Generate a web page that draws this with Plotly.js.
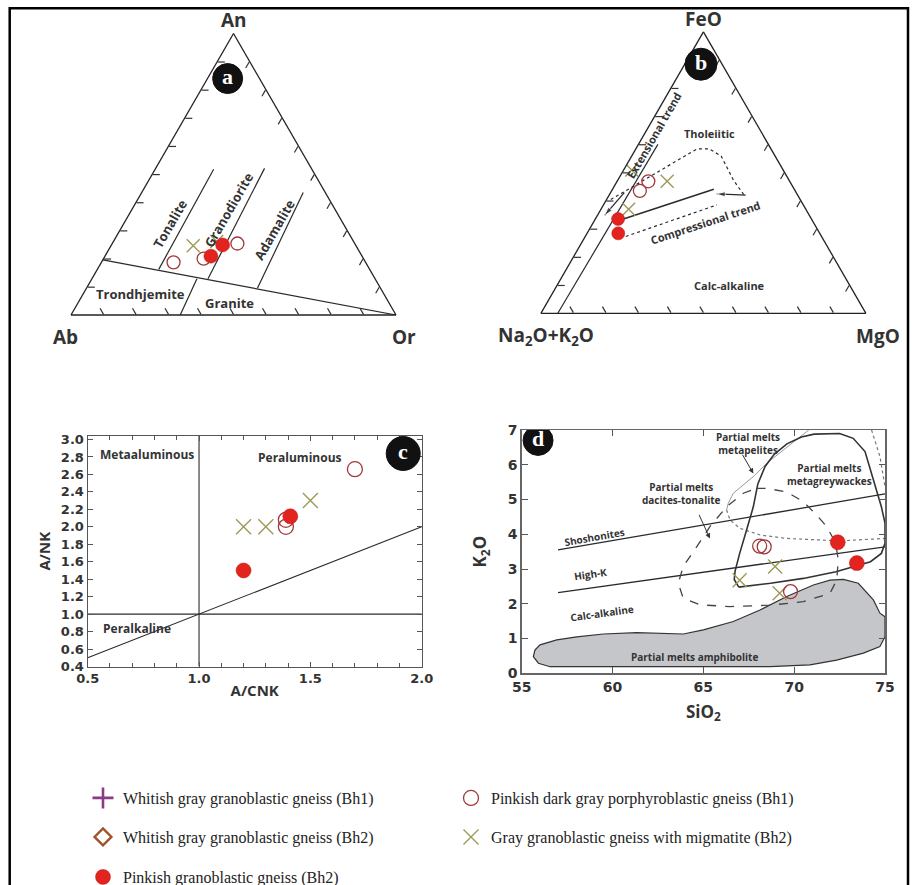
<!DOCTYPE html>
<html><head><meta charset="utf-8">
<script src="https://cdn.plot.ly/plotly-3.0.1.min.js"></script>
<style>body{margin:0;background:#fff}#chart{width:917px;height:885px}</style>
</head><body><div id="chart"></div>
<script>
const W = 917, H = 885;

// ---------- Panel a : An - Ab - Or ----------
const aOpenAn = [0.187, 0.200, 0.254];
const aOpenAb = [0.591, 0.492, 0.361];
const aOpenOr = [0.222, 0.308, 0.385];
const aFillAn = [0.209, 0.249];
const aFillAb = [0.465, 0.409];
const aFillOr = [0.326, 0.342];
const aXAn = [0.246, 0.261];
const aXAb = [0.501, 0.421];
const aXOr = [0.253, 0.318];
// field boundaries (An, Ab, Or)
const aBoundAn = [0.196, 0.0], aBoundAb = [0.804, 0.0], aBoundOr = [0.0, 1.0];
const aTrGrAn = [0.0, 0.129], aTrGrAb = [0.664, 0.548], aTrGrOr = [0.336, 0.323];
const aTonAn = [0.162, 0.518], aTonAb = [0.649, 0.302], aTonOr = [0.189, 0.180];
const aGrdAn = [0.129, 0.521], aGrdAb = [0.514, 0.144], aGrdOr = [0.357, 0.335];
const aAdaAn = [0.095, 0.435], aAdaAb = [0.379, 0.068], aAdaOr = [0.526, 0.497];

// ---------- Panel b : FeO - (Na2O+K2O) - MgO ----------
const bFillFe = [0.335, 0.284], bFillAlk = [0.595, 0.620], bFillMg = [0.070, 0.096];
const bOpenFe = [0.435, 0.469], bOpenAlk = [0.478, 0.435], bOpenMg = [0.087, 0.096];
const bXFe = [0.509, 0.469, 0.370], bXAlk = [0.466, 0.377, 0.545], bXMg = [0.025, 0.154, 0.085];
const bInnerFe = [0.0, 0.60], bInnerAlk = [0.948, 0.34], bInnerMg = [0.052, 0.06];
const bExtArrFe = [0.429, 0.348], bExtArrAlk = [0.529, 0.630], bExtArrMg = [0.042, 0.022];
const bUpDotFe = [0.404, 0.584, 0.584, 0.559, 0.472, 0.422];
const bUpDotMg = [0.013, 0.188, 0.226, 0.275, 0.357, 0.413];
const bUpDotAlk = [0.583, 0.228, 0.190, 0.166, 0.171, 0.165];
const bCompFe = [0.329, 0.441], bCompAlk = [0.598, 0.2475], bCompMg = [0.073, 0.3115];
const bCompArrFe = [0.420, 0.424], bCompArrAlk = [0.160, 0.247], bCompArrMg = [0.420, 0.329];
const bLoDotFe = [0.273, 0.385], bLoDotAlk = [0.6025, 0.266], bLoDotMg = [0.1245, 0.349];

// ---------- Panel c : A/CNK vs A/NK ----------
const cOpenX = [1.70, 1.39, 1.39], cOpenY = [2.66, 2.00, 2.08];
const cFillX = [1.41, 1.20], cFillY = [2.12, 1.50];
const cXX = [1.20, 1.30, 1.50], cXY = [2.00, 2.00, 2.30];
const cVertX = [1.0, 1.0], cVertY = [0.4, 3.04];
const cHorX = [0.5, 2.0], cHorY = [1.0, 1.0];
const cDiagX = [0.5, 2.0], cDiagY = [0.5, 2.0];
// groups with no plotted sample (legend only)
const plusX = [null], plusY = [null];
const diamX = [null], diamY = [null];

// ---------- Panel d : SiO2 vs K2O ----------
const dOpenX = [68.1, 68.35, 69.8], dOpenY = [3.66, 3.64, 2.35];
const dFillX = [72.4, 73.45], dFillY = [3.77, 3.17];
const dXX = [67.0, 68.95, 69.2], dXY = [2.68, 3.07, 2.30];
const dShoX = [57.0, 75.0], dShoY = [3.55, 5.16];
const dHiKX = [57.0, 75.0], dHiKY = [2.32, 3.64];
const dAmphX = [55.73,56.01,56.93,58.03,59.50,61.33,63.90,65.00,66.65,68.12,69.59,71.06,71.97,72.71,73.53,74.36,74.72,75.0,75.0,74.72,73.81,72.34,70.87,68.67,63.17,56.56,55.92,55.64,55.73];
const dAmphY = [0.67,0.82,0.96,1.05,1.13,1.17,1.13,1.25,1.49,1.82,2.21,2.54,2.68,2.70,2.59,2.11,1.73,1.63,1.05,0.77,0.58,0.38,0.24,0.19,0.19,0.19,0.29,0.48,0.67];
const dGreyX = [66.95,66.7,66.75,67.0,67.38,67.75,68.0,68.4,68.9,69.6,70.4,71.1,72.5,73.25,73.9,74.35,74.8,75.0,75.0,74.8,74.2,72.3,70.5,68.7,67.2,66.95];
const dGreyY = [2.48,2.7,2.95,3.45,4.12,4.79,5.45,5.95,6.3,6.6,6.8,6.88,6.9,6.76,6.38,5.56,4.79,4.32,3.74,3.45,3.21,2.92,2.73,2.59,2.48,2.48];
const dPelUpX = [70.8,69.39,68.48,67.84,67.2,66.65,66.37,66.28];
const dPelUpY = [7.0,6.42,6.04,5.70,5.42,5.18,4.89,4.70];
const dPelLoX = [66.28,66.47,67.01,68.12,69.58,71.24,72.52,75.0];
const dPelLoY = [4.70,4.41,4.17,3.98,3.88,3.83,3.81,3.88];
const dTopRX = [74.26,74.72,75.0], dTopRY = [7.0,6.24,5.37];
const dDacX = [67.93,68.48,69.58,70.50,71.24,71.79,72.15,72.34,72.43,72.34,71.97,70.50,68.67,66.47,64.82,63.89,63.62,63.89,64.63,65.36,66.28,67.20,67.93];
const dDacY = [5.32,5.32,5.22,4.94,4.55,4.22,3.88,3.55,3.26,2.68,2.30,2.06,1.96,1.92,1.97,2.16,2.59,3.07,3.64,4.22,4.79,5.18,5.32];

// legend names
const NAMES = ['Whitish gray granoblastic gneiss (Bh1)','Pinkish dark gray porphyroblastic gneiss (Bh1)',
  'Whitish gray granoblastic gneiss (Bh2)','Gray granoblastic gneiss with migmatite (Bh2)','Pinkish granoblastic gneiss (Bh2)'];

// ---------- styling ----------
const C_OPEN = '#a3383a', C_FILL = '#e2231e', C_X = '#9d9a58', C_PLUS = '#8b3a84', C_DIAM = '#a0522d', C_LN = '#2a2a2a', C_TX = '#333';
const mOpen = s => ({symbol:'circle-open', size:s, color:C_OPEN, line:{width:1.3}});
const mFill = s => ({symbol:'circle', size:s, color:C_FILL, line:{color:'#c01818', width:0.5}});
const mX = s => ({symbol:'x-thin-open', size:s, color:C_X, line:{width:1.4}});

function triGeom(cx, yb, w){ return {xl:cx-w/2, xr:cx+w/2, yb:yb, yt:yb-w*Math.sqrt(3)/2}; }
const GA = triGeom(233.5, 315, 325);
const GB = triGeom(703.4, 313.3, 325);
const domOf = g => ({x:[g.xl/W, g.xr/W], y:[1-g.yb/H, 1-g.yt/H]});
function terPx(g,a,c){ const w=g.xr-g.xl; return [g.xl + c*w + a*w/2, g.yb - a*(g.yb-g.yt)]; }
function terP(g,a,c){ const p=terPx(g,a,c); return [p[0]/W, 1-p[1]/H]; }
function angPx(g,a1,c1,a2,c2){ const p=terPx(g,a1,c1), q=terPx(g,a2,c2); return Math.atan2(q[1]-p[1], q[0]-p[0])*180/Math.PI; }
function arrowAng(g,a1,c1,a2,c2){ const p=terPx(g,a1,c1), q=terPx(g,a2,c2); return Math.atan2(q[0]-p[0], -(q[1]-p[1]))*180/Math.PI; }

const tl = (sub, a, b, c, dash, w) => ({type:'scatterternary', subplot:sub, a:a, b:b, c:c, mode:'lines',
  line:{color:C_LN, width:w||1.2, dash:dash||'solid'}, showlegend:false, hoverinfo:'skip'});
const tp = (sub, a, b, c, m) => ({type:'scatterternary', subplot:sub, a:a, b:b, c:c, mode:'markers', marker:m, showlegend:false, hoverinfo:'skip'});

const data = [];
// panel a
data.push(tl('ternary', aBoundAn, aBoundAb, aBoundOr));
data.push(tl('ternary', aTrGrAn, aTrGrAb, aTrGrOr));
data.push(tl('ternary', aTonAn, aTonAb, aTonOr));
data.push(tl('ternary', aGrdAn, aGrdAb, aGrdOr));
data.push(tl('ternary', aAdaAn, aAdaAb, aAdaOr));
data.push(tp('ternary', aXAn, aXAb, aXOr, mX(13)));
data.push(tp('ternary', aOpenAn, aOpenAb, aOpenOr, mOpen(13)));
data.push(tp('ternary', aFillAn, aFillAb, aFillOr, mFill(14)));
// panel b
data.push(tl('ternary2', bInnerFe, bInnerAlk, bInnerMg));
data.push(tl('ternary2', bUpDotFe, bUpDotAlk, bUpDotMg, 'dot', 1.2));
data.push(tl('ternary2', bLoDotFe, bLoDotAlk, bLoDotMg, 'dot', 1.2));
data.push(tl('ternary2', bCompFe, bCompAlk, bCompMg, 'solid', 1.5));
const arrT = (a,b,c,ang) => Object.assign(tl('ternary2', a, b, c, 'solid', 1.3), {mode:'lines+markers',
  marker:{symbol:'arrow', size:[0,9], angle:ang, color:C_LN}});
data.push(arrT(bExtArrFe, bExtArrAlk, bExtArrMg, arrowAng(GB, bExtArrFe[0], bExtArrMg[0], bExtArrFe[1], bExtArrMg[1])));
data.push(arrT(bCompArrFe, bCompArrAlk, bCompArrMg, arrowAng(GB, bCompArrFe[0], bCompArrMg[0], bCompArrFe[1], bCompArrMg[1])));
data.push(tp('ternary2', bXFe, bXAlk, bXMg, mX(13)));
data.push(tp('ternary2', bOpenFe, bOpenAlk, bOpenMg, mOpen(13)));
data.push(tp('ternary2', bFillFe, bFillAlk, bFillMg, mFill(13)));

// panel c
const cl = (x, y) => ({type:'scatter', x:x, y:y, xaxis:'x', yaxis:'y', mode:'lines', line:{color:C_LN, width:1.1}, showlegend:false, hoverinfo:'skip'});
data.push(cl(cVertX, cVertY), cl(cHorX, cHorY), cl(cDiagX, cDiagY));
data.push({type:'scatter', x:plusX, y:plusY, mode:'markers', name:NAMES[0], legend:'legend', legendrank:1,
  marker:{symbol:'cross-thin-open', size:15, color:C_PLUS, line:{width:2.6}}});
data.push({type:'scatter', x:cOpenX, y:cOpenY, mode:'markers', name:NAMES[1], legend:'legend', legendrank:2, marker:mOpen(15)});
data.push({type:'scatter', x:diamX, y:diamY, mode:'markers', name:NAMES[2], legend:'legend2', legendrank:1,
  marker:{symbol:'diamond-open', size:13, color:C_DIAM, line:{width:2.4}}});
data.push({type:'scatter', x:cXX, y:cXY, mode:'markers', name:NAMES[3], legend:'legend2', legendrank:2, marker:mX(15)});
data.push({type:'scatter', x:cFillX, y:cFillY, mode:'markers', name:NAMES[4], legend:'legend3', legendrank:1, marker:mFill(15)});

// panel d
const dl = (x, y, color, dash, w) => ({type:'scatter', x:x, y:y, xaxis:'x2', yaxis:'y2', mode:'lines',
  line:{color:color, width:w||1.2, dash:dash||'solid'}, showlegend:false, hoverinfo:'skip'});
data.push(Object.assign(dl(dAmphX, dAmphY, '#333', 'solid', 1.2), {fill:'toself', fillcolor:'#c5c6c9'}));
data.push(dl(dShoX, dShoY, C_LN, 'solid', 1.3));
data.push(dl(dHiKX, dHiKY, C_LN, 'solid', 1.3));
data.push(dl(dPelUpX, dPelUpY, '#999', 'solid', 1));
data.push(dl(dPelLoX, dPelLoY, '#777', 'dot', 1.2));
data.push(dl(dTopRX, dTopRY, '#777', 'dot', 1.2));
data.push(dl(dGreyX, dGreyY, '#333', 'solid', 1.6));
data.push(dl(dDacX, dDacY, '#444', 'dash', 1.3));
const dp = (x, y, m) => ({type:'scatter', x:x, y:y, xaxis:'x2', yaxis:'y2', mode:'markers', marker:m, showlegend:false, hoverinfo:'skip'});
data.push(dp(dXX, dXY, mX(14)), dp(dOpenX, dOpenY, mOpen(14)), dp(dFillX, dFillY, mFill(15)));

// ---------- annotations ----------
const FONT = 'Open Sans';
const txt = (text, x, y, size, extra) => Object.assign({text:text, x:x, y:y, showarrow:false, xanchor:'center', yanchor:'middle',
  font:{family:FONT, size:size, color:C_TX, weight:'bold'}}, extra||{});
const ann = [];
function terLab(g, text, a, c, size, ang){ const p = terP(g, a, c); ann.push(txt(text, p[0], p[1], size, {xref:'paper', yref:'paper', textangle:ang||0})); }
// panel a labels
terLab(GA, 'Tonalite', 0.325, 0.141, 13, -60);
terLab(GA, 'Granodiorite', 0.375, 0.300, 13, -60);
terLab(GA, 'Adamalite', 0.302, 0.474, 13, -60);
terLab(GA, 'Trondhjemite', 0.074, 0.177, 13, 0);
terLab(GA, 'Granite', 0.043, 0.4665, 13, 0);
// panel b labels
terLab(GB, 'Tholeiitic', 0.64, 0.198, 11, 0);
terLab(GB, 'Calc-alkaline', 0.099, 0.53, 11, 0);
terLab(GB, 'Compressional trend', 0.322, 0.345, 11, angPx(GB, bCompFe[0], bCompMg[0], bCompFe[1], bCompMg[1]));
terLab(GB, 'Extensional trend', 0.63, 0.033, 11, -60);
// vertex labels
const px2p = (x, y) => [x/W, 1-y/H];
function pxLab(text, x, y, size){ const p = px2p(x, y); ann.push(txt(text, p[0], p[1], size, {xref:'paper', yref:'paper'})); }
pxLab('An', (GA.xl+GA.xr)/2, GA.yt-14, 19);
pxLab('Ab', GA.xl-6, 337, 19);
pxLab('Or', GA.xr+8, 337, 19);
pxLab('FeO', (GB.xl+GB.xr)/2, GB.yt-13, 19);
pxLab('Na<sub>2</sub>O+K<sub>2</sub>O', GB.xl+5, 336, 19);
pxLab('MgO', GB.xr+12, 336, 19);
// panel c labels
ann.push(txt('Metaaluminous', 0.765, 2.83, 12, {xref:'x', yref:'y'}));
ann.push(txt('Peraluminous', 1.454, 2.79, 12, {xref:'x', yref:'y'}));
ann.push(txt('Peralkaline', 0.72, 0.84, 12, {xref:'x', yref:'y'}));
// panel d labels
const dT = (t, x, y, ang) => ann.push(txt(t, x, y, 10, {xref:'x2', yref:'y2', textangle:ang||0}));
dT('Partial melts<br>metapelites', 67.48, 6.62);
dT('Partial melts<br>metagreywackes', 71.95, 5.72);
dT('Partial melts<br>dacites-tonalite', 63.8, 5.16);
dT('Shoshonites', 58.98, 3.93, -10);
dT('High-K', 58.8, 2.86, -8);
dT('Calc-alkaline', 59.44, 1.74, -8);
dT('Partial melts amphibolite', 64.54, 0.48);
const dArrow = (x0, y0, x1, y1) => ann.push({xref:'x2', yref:'y2', axref:'x2', ayref:'y2', x:x1, y:y1, ax:x0, ay:y0,
  text:'', showarrow:true, arrowhead:2, arrowsize:1, arrowwidth:1, arrowcolor:'#333'});
dArrow(64.73, 4.60, 65.36, 3.88);
dArrow(67.11, 6.33, 67.75, 5.75);

// badges
const shapes = [];
function badge(letter, xp, yp, xref, yref, r){
  shapes.push({type:'circle', xref:xref, yref:yref, xsizemode:'pixel', ysizemode:'pixel', xanchor:xp, yanchor:yp,
    x0:-r, x1:r, y0:-r, y1:r, fillcolor:'#111', line:{color:'#111', width:1}});
  ann.push({text:letter, x:xp, y:yp, xref:xref, yref:yref, xanchor:'center', yanchor:'middle', showarrow:false, yshift:2,
    font:{family:'Liberation Serif', size:22, color:'#fff', weight:'bold'}});
}
const pa = terP(GA, 0.84, 0.062); badge('a', pa[0], pa[1], 'paper', 'paper', 15);
const pb = terP(GB, 0.885, 0.05); badge('b', pb[0], pb[1], 'paper', 'paper', 16);
badge('c', 1.917, 2.84, 'x', 'y', 17);
badge('d', 55.9, 6.7, 'x2', 'y2', 15);
// outer frame
shapes.push({type:'rect', xref:'paper', yref:'paper', x0:9.7/W, x1:908/W, y0:-0.02, y1:1-8.3/H, line:{color:'#000', width:2.5}});

// ---------- layout ----------
const tAx = {showticklabels:false, ticks:'inside', ticklen:7, tickwidth:1.2, tickcolor:'#333', dtick:0.1, showgrid:false,
  showline:true, linecolor:'#222', linewidth:1.3, title:{text:''}};
const tickFont = s => ({family:'DejaVu Sans', size:s, color:'#333', weight:'bold'});
const legendBase = {orientation:'h', xanchor:'left', yanchor:'middle', x:83/W, entrywidth:323, bgcolor:'rgba(0,0,0,0)',
  font:{family:'Liberation Serif', size:16, color:'#222'}, itemclick:false, itemdoubleclick:false};

const layout = {
  width:W, height:H, margin:{l:0, r:0, t:0, b:0, autoexpand:false}, paper_bgcolor:'#fff', plot_bgcolor:'#fff', showlegend:true,
  ternary:{domain:domOf(GA), sum:1, bgcolor:'#fff', aaxis:tAx, baxis:tAx, caxis:tAx},
  ternary2:{domain:domOf(GB), sum:1, bgcolor:'#fff', aaxis:tAx, baxis:tAx, caxis:tAx},
  xaxis:{domain:[87.7/W, 421.7/W], range:[0.5, 2.0], tick0:0.5, dtick:0.5, tickformat:'.1f', ticks:'inside', ticklen:5,
    minor:{dtick:0.1, tick0:0.5, ticks:'inside', ticklen:4, tickcolor:'#555'}, showline:true, mirror:'ticks', linecolor:'#555',
    linewidth:1.2, tickcolor:'#555', showgrid:false, zeroline:false, tickfont:tickFont(13), anchor:'y',
    title:{text:'A/CNK', font:{family:FONT, size:15, color:C_TX, weight:'bold'}, standoff:0}},
  yaxis:{domain:[1-666.5/H, 1-436/H], range:[0.4, 3.04], tick0:0.4, dtick:0.2, tickformat:'.1f', ticks:'inside', ticklen:5,
    showline:true, mirror:'ticks', linecolor:'#555', linewidth:1.2, tickcolor:'#555', showgrid:false, zeroline:false,
    tickfont:tickFont(13), anchor:'x', title:{text:'A/NK', font:{family:FONT, size:15, color:C_TX, weight:'bold'}, standoff:6}},
  xaxis2:{domain:[521.7/W, 885/W], range:[55, 75], dtick:5, ticks:'inside', ticklen:6, showline:true, mirror:'ticks',
    linecolor:'#666', linewidth:1.5, tickcolor:'#555', showgrid:false, zeroline:false, tickfont:tickFont(14), anchor:'y2',
    title:{text:'SiO<sub>2</sub>', font:{family:FONT, size:17, color:C_TX, weight:'bold'}, standoff:12}},
  yaxis2:{domain:[1-673.3/H, 1-430/H], range:[0, 7], dtick:1, ticks:'inside', ticklen:6, showline:true, mirror:'ticks',
    linecolor:'#666', linewidth:1.5, tickcolor:'#555', showgrid:false, zeroline:false, tickfont:tickFont(14), anchor:'x2',
    title:{text:'K<sub>2</sub>O', font:{family:FONT, size:17, color:C_TX, weight:'bold'}, standoff:16}},
  legend:Object.assign({}, legendBase, {y:1-798/H}),
  legend2:Object.assign({}, legendBase, {y:1-837/H}),
  legend3:Object.assign({}, legendBase, {y:1-877/H}),
  shapes:shapes, annotations:ann
};

Plotly.newPlot('chart', data, layout, {staticPlot:true, displayModeBar:false});
</script></body></html>
